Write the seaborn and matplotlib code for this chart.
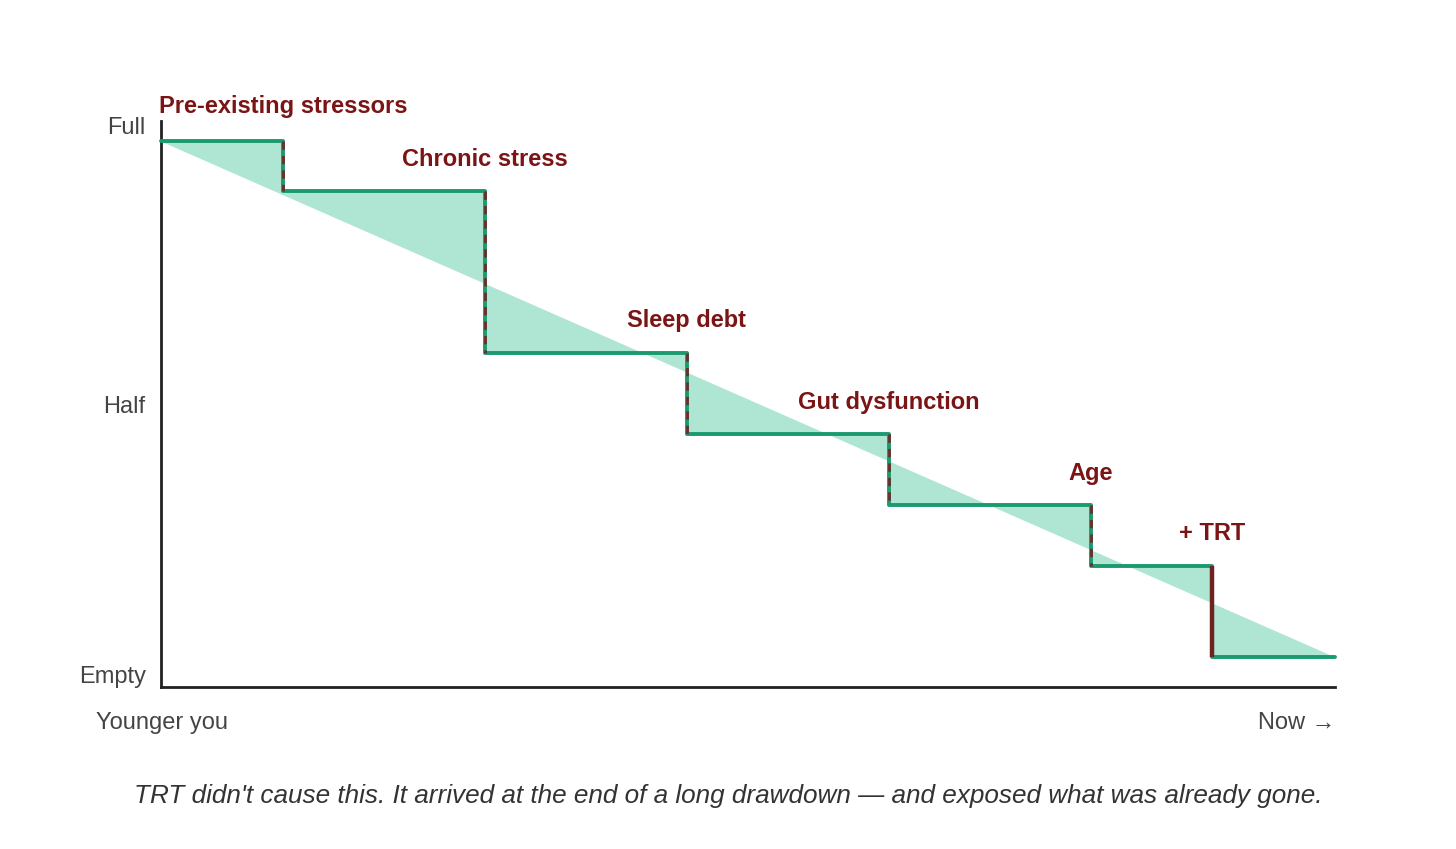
import numpy as np
import pandas as pd
import matplotlib
matplotlib.use("Agg")
import matplotlib.pyplot as plt
import seaborn as sns

# ---- data ----
step_x = [0, 10.4, 27.6, 44.8, 62.0, 79.2, 89.5, 100]
step_levels = [100, 90.8, 61.2, 46.3, 33.3, 22.2, 5.5]
stressors = ["Pre-existing stressors", "Chronic stress", "Sleep debt",
             "Gut dysfunction", "Age", "+ TRT"]
diag_start, diag_end = 100, 5.5
ytick_vals = [2.2, 51.8, 102.9]
ytick_labels = ["Empty", "Half", "Full"]
x_left_label = "Younger you"
x_right_label = "Now \u2192"
caption = ("TRT didn't cause this. It arrived at the end of a long drawdown \u2014 "
           "and exposed what was already gone.")

GREEN = "#1b9a6f"
FILL = "#aee5d3"
DASH = "#6b2e2a"
TRT_RED = "#6e2222"
LABEL = "#7b1414"

sns.set_theme(style="white")
plt.rcParams['font.family'] = ['Liberation Sans', 'DejaVu Sans']

fig = plt.figure(figsize=(14.56, 8.49), dpi=100)
ax = fig.add_axes([161/1456, 1-687/849, (1335-161)/1456, (687-121)/849])

# polygon points for step line (duplicated x at drops)
xs, ys = [], []
for i, lvl in enumerate(step_levels):
    xs += [step_x[i], step_x[i+1]]
    ys += [lvl, lvl]
xs = np.array(xs); ys = np.array(ys)
diag = np.interp(xs, [step_x[0], step_x[-1]], [diag_start, diag_end])
ax.fill_between(xs, ys, diag, color=FILL, lw=0, zorder=1)

# step line
df = pd.DataFrame({"x": step_x, "y": step_levels + [step_levels[-1]]})
sns.lineplot(data=df, x="x", y="y", drawstyle="steps-post", color=GREEN,
             lw=2.8, ax=ax, zorder=3, clip_on=False)

# drop overlays and labels
for i in range(len(stressors)):
    xd = step_x[i+1]
    top, bot = step_levels[i], step_levels[i+1]
    if i < len(stressors) - 1:
        ax.plot([xd, xd], [top, bot], color=DASH, lw=2.0,
                linestyle=(0, (3, 2.2)), zorder=4, solid_capstyle="butt")
    else:
        ax.plot([xd, xd], [top, bot], color=TRT_RED, lw=3.2, zorder=4,
                solid_capstyle="butt")
    off = 35 if i == 0 else 32
    ax.annotate(stressors[i], xy=(xd, top), xytext=(0, off),
                textcoords="offset pixels", ha="center", va="center",
                fontsize=17, fontweight="bold", color=LABEL, zorder=5)

ax.set_xlim(0, 100)
ax.set_ylim(0, 103.7)
ax.set_xticks([])
ax.set_yticks(ytick_vals)
ax.set_yticklabels(ytick_labels, fontsize=17, color="#444444")
ax.tick_params(axis="y", length=0, pad=11)
ax.set_xlabel(""); ax.set_ylabel("")
for s in ["top", "right"]:
    ax.spines[s].set_visible(False)
for s in ["left", "bottom"]:
    ax.spines[s].set_color("#222222")
    ax.spines[s].set_linewidth(2.0)

fig.text(162/1456, 1-723/849, x_left_label, ha="center", va="center",
         fontsize=17, color="#444444")
fig.text(1335/1456, 1-723/849, x_right_label, ha="right", va="center",
         fontsize=17, color="#444444")
fig.text(728/1456, 1-796/849, caption, ha="center", va="center",
         fontsize=18.8, style="italic", color="#333333")

fig.savefig("out.png", dpi=100, facecolor="white")
